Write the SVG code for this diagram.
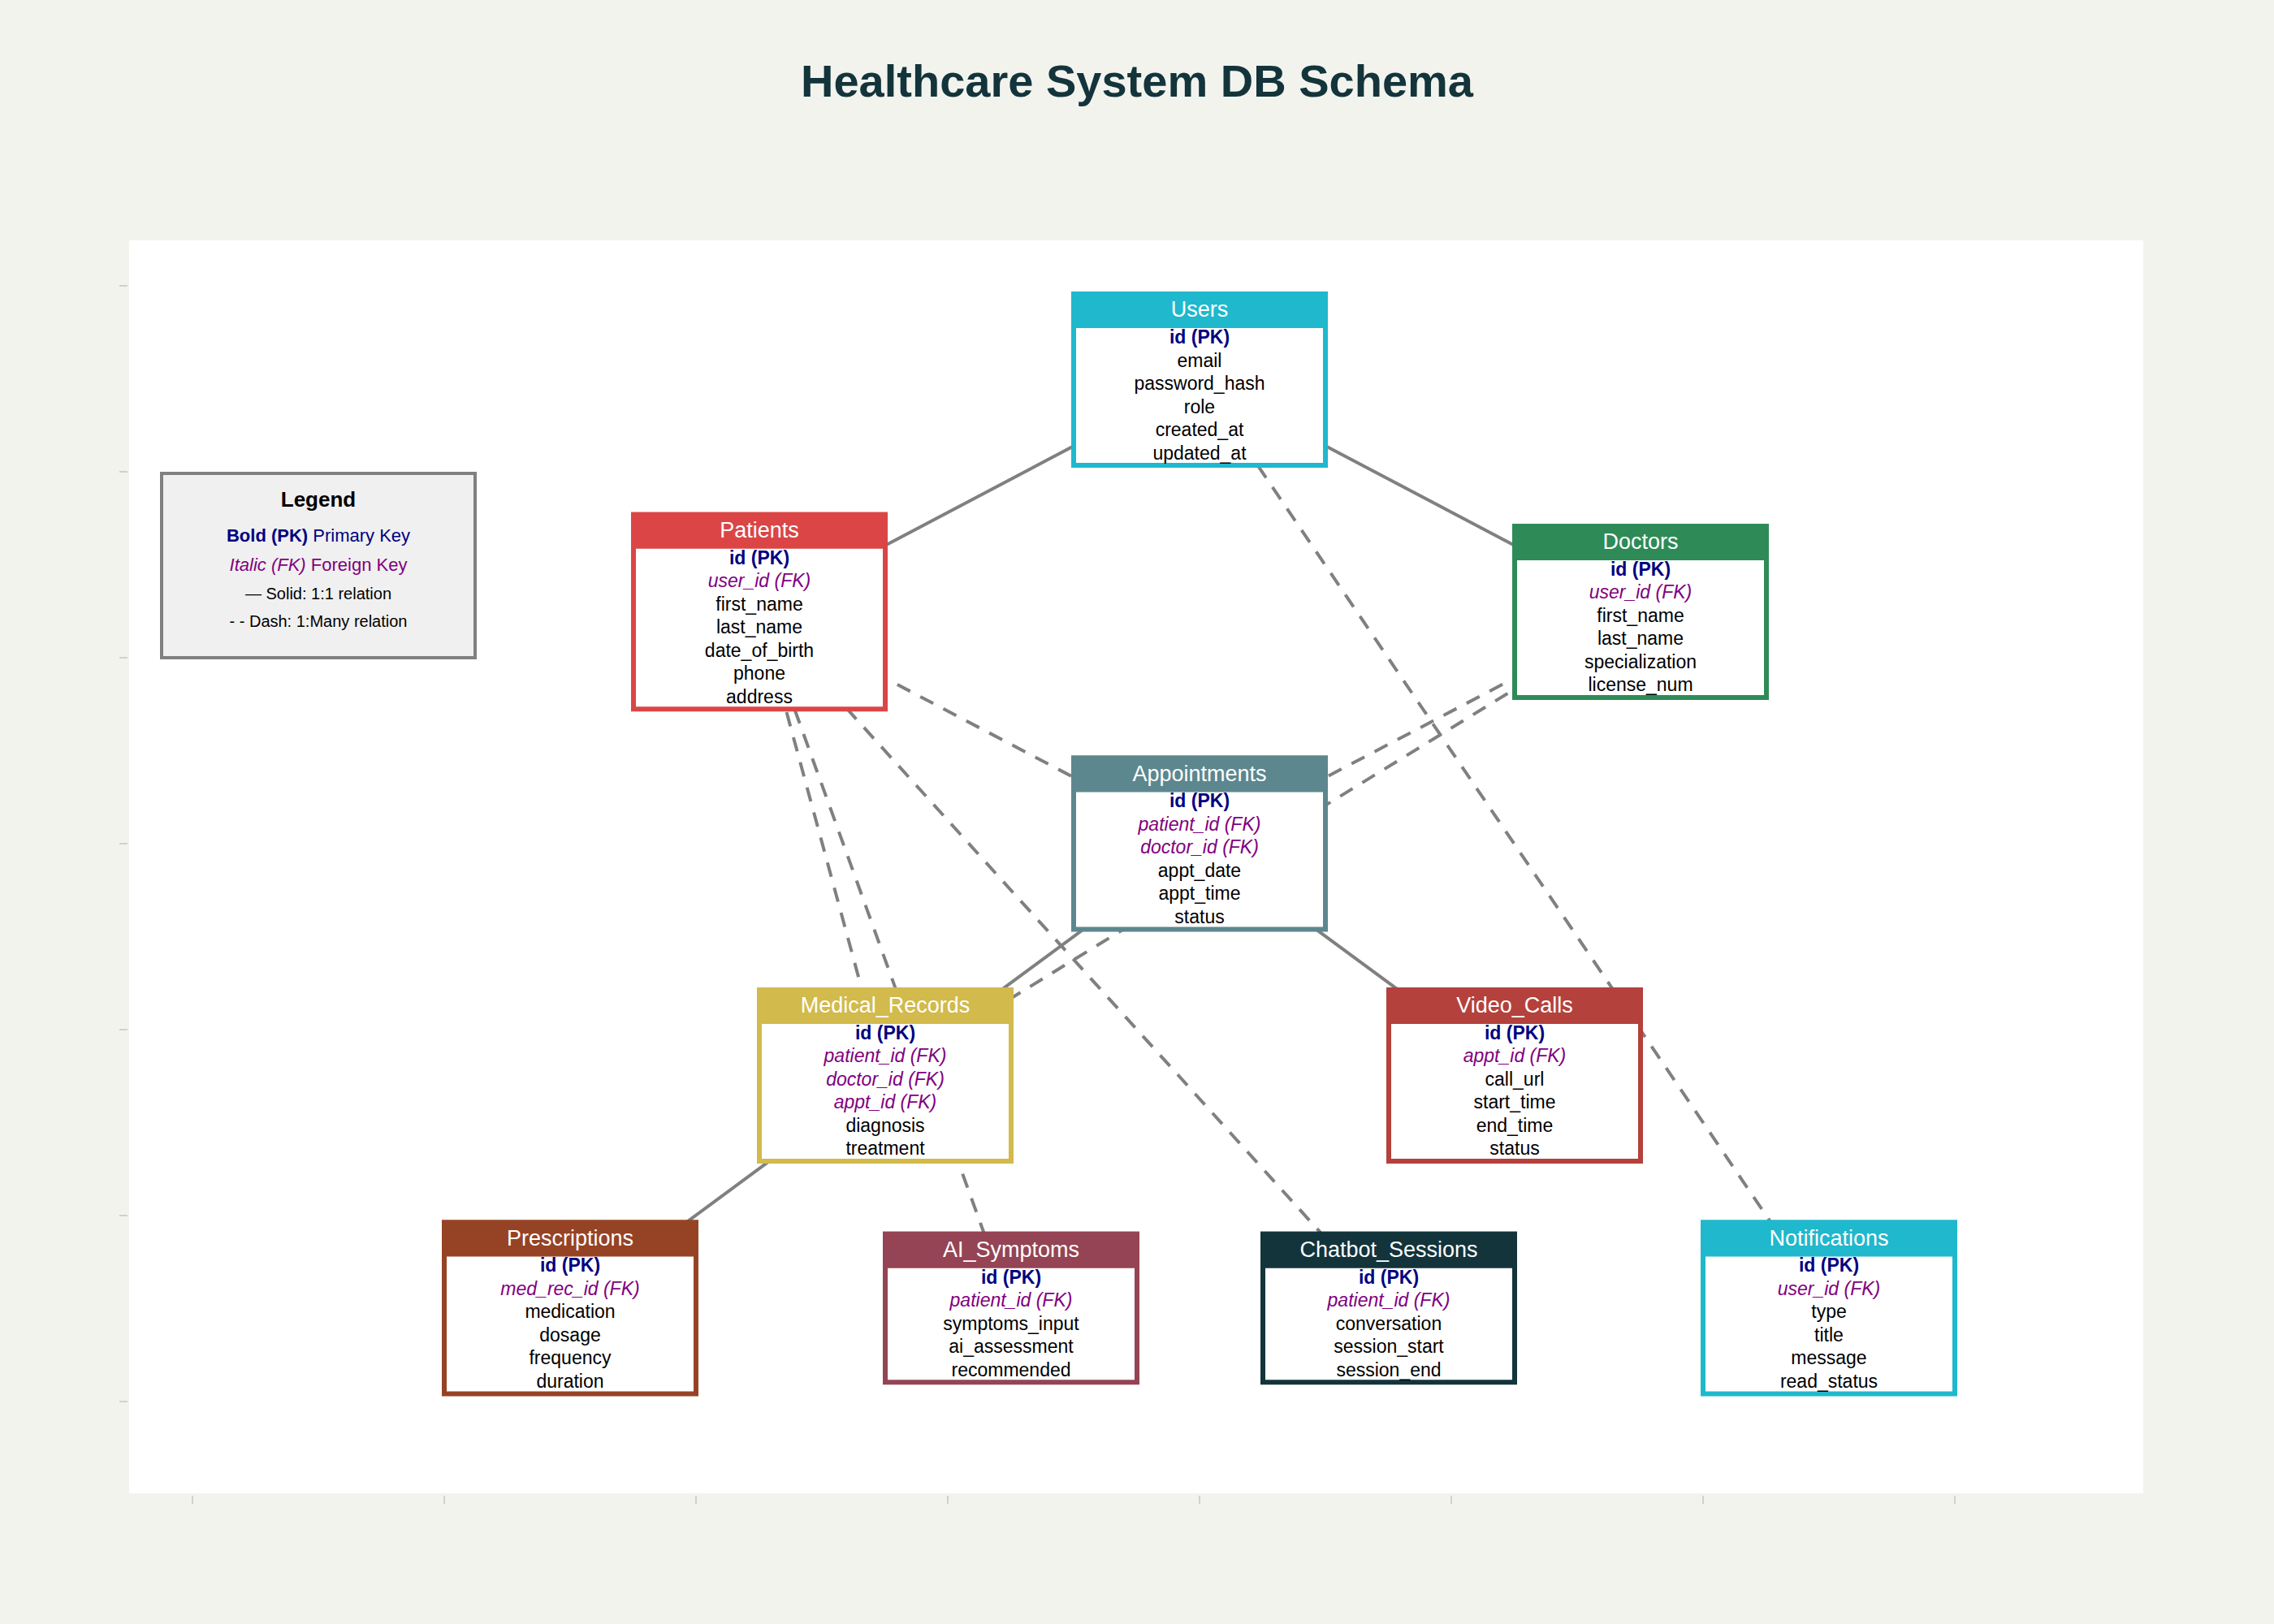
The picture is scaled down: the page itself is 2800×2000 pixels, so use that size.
<svg xmlns="http://www.w3.org/2000/svg" width="2800" height="2000" viewBox="0 0 2800 2000">
<style>
text{font-family:"Liberation Sans",Arial,sans-serif;text-anchor:middle}
.title{font-size:56px;font-weight:bold;fill:#13343B}
.hdr{font-size:27px;fill:#ffffff}
.pk{font-size:23px;font-weight:bold;fill:#000080}
.fk{font-size:23px;font-style:italic;fill:#800080}
.fld{font-size:23px;fill:#000000}
.body{fill:#ffffff;stroke-width:6}
.solid{stroke:#808080;stroke-width:4;fill:none}
.dash{stroke:#808080;stroke-width:4;fill:none;stroke-dasharray:18,14}
.tick{stroke:#d0d0d0;stroke-width:2}
</style>
<rect x="0" y="0" width="2800" height="2000" fill="#F3F3EE"/>
<rect x="159" y="296" width="2480" height="1543" fill="#ffffff"/>
<g id="ticks">
<line class="tick" x1="147" y1="352" x2="157" y2="352"/>
<line class="tick" x1="147" y1="581" x2="157" y2="581"/>
<line class="tick" x1="147" y1="810" x2="157" y2="810"/>
<line class="tick" x1="147" y1="1039" x2="157" y2="1039"/>
<line class="tick" x1="147" y1="1268" x2="157" y2="1268"/>
<line class="tick" x1="147" y1="1497" x2="157" y2="1497"/>
<line class="tick" x1="147" y1="1726" x2="157" y2="1726"/>
<line class="tick" x1="237" y1="1842" x2="237" y2="1852"/>
<line class="tick" x1="547" y1="1842" x2="547" y2="1852"/>
<line class="tick" x1="857" y1="1842" x2="857" y2="1852"/>
<line class="tick" x1="1167" y1="1842" x2="1167" y2="1852"/>
<line class="tick" x1="1477" y1="1842" x2="1477" y2="1852"/>
<line class="tick" x1="1787" y1="1842" x2="1787" y2="1852"/>
<line class="tick" x1="2097" y1="1842" x2="2097" y2="1852"/>
<line class="tick" x1="2407" y1="1842" x2="2407" y2="1852"/>
</g>
<text class="title" x="1400" y="119">Healthcare System DB Schema</text>
<g id="connectors">
<line class="solid" x1="1477" y1="467.5" x2="935" y2="753.5"/>
<line class="solid" x1="1477" y1="467.5" x2="2020" y2="753.5"/>
<line class="solid" x1="1477" y1="1039" x2="1090" y2="1324.5"/>
<line class="solid" x1="1477" y1="1039" x2="1865" y2="1324.5"/>
<line class="solid" x1="1090" y1="1324.5" x2="702" y2="1611"/>
<line class="dash" x1="935" y1="753.5" x2="1477" y2="1039"/>
<line class="dash" x1="2020" y1="753.5" x2="1477" y2="1039"/>
<line class="dash" x1="935" y1="753.5" x2="1090" y2="1324.5"/>
<line class="dash" x1="2020" y1="753.5" x2="1090" y2="1324.5"/>
<line class="dash" x1="935" y1="753.5" x2="1245" y2="1611"/>
<line class="dash" x1="935" y1="753.5" x2="1710" y2="1611"/>
<line class="dash" x1="1477" y1="467.5" x2="2252" y2="1611"/>
</g>
<g id="legend">
<rect x="199" y="583" width="386" height="227" fill="#F0F0F0" stroke="#808080" stroke-width="4"/>
<text x="392" y="624" style="font-size:26px;font-weight:bold;fill:#000">Legend</text>
<text x="392" y="667" style="font-size:22px;fill:#000080"><tspan font-weight="bold">Bold (PK)</tspan> Primary Key</text>
<text x="392" y="703" style="font-size:22px;fill:#800080"><tspan font-style="italic">Italic (FK)</tspan> Foreign Key</text>
<text x="392" y="738" style="font-size:20px;fill:#000">— Solid: 1:1 relation</text>
<text x="392" y="772" style="font-size:20px;fill:#000">- - Dash: 1:Many relation</text>
</g>
<g id="node-users">
<rect class="body" x="1322" y="362" width="310" height="211" stroke="#1FB8CD"/>
<rect x="1319" y="359" width="316" height="45" fill="#1FB8CD"/>
<text class="hdr" x="1477" y="390">Users</text>
<text class="pk" x="1477" y="423">id (PK)</text>
<text class="fld" x="1477" y="451.5">email</text>
<text class="fld" x="1477" y="480">password_hash</text>
<text class="fld" x="1477" y="508.5">role</text>
<text class="fld" x="1477" y="537">created_at</text>
<text class="fld" x="1477" y="565.5">updated_at</text>
</g>
<g id="node-patients">
<rect class="body" x="780" y="633.75" width="310" height="239.5" stroke="#DB4545"/>
<rect x="777" y="630.75" width="316" height="45" fill="#DB4545"/>
<text class="hdr" x="935" y="661.75">Patients</text>
<text class="pk" x="935" y="694.5">id (PK)</text>
<text class="fk" x="935" y="723">user_id (FK)</text>
<text class="fld" x="935" y="751.5">first_name</text>
<text class="fld" x="935" y="780">last_name</text>
<text class="fld" x="935" y="808.5">date_of_birth</text>
<text class="fld" x="935" y="837">phone</text>
<text class="fld" x="935" y="865.5">address</text>
</g>
<g id="node-doctors">
<rect class="body" x="1865" y="648" width="310" height="211" stroke="#2E8B57"/>
<rect x="1862" y="645" width="316" height="45" fill="#2E8B57"/>
<text class="hdr" x="2020" y="676">Doctors</text>
<text class="pk" x="2020" y="708.75">id (PK)</text>
<text class="fk" x="2020" y="737.25">user_id (FK)</text>
<text class="fld" x="2020" y="765.75">first_name</text>
<text class="fld" x="2020" y="794.25">last_name</text>
<text class="fld" x="2020" y="822.75">specialization</text>
<text class="fld" x="2020" y="851.25">license_num</text>
</g>
<g id="node-appointments">
<rect class="body" x="1322" y="933.5" width="310" height="211" stroke="#5D878F"/>
<rect x="1319" y="930.5" width="316" height="45" fill="#5D878F"/>
<text class="hdr" x="1477" y="961.5">Appointments</text>
<text class="pk" x="1477" y="994.25">id (PK)</text>
<text class="fk" x="1477" y="1022.75">patient_id (FK)</text>
<text class="fk" x="1477" y="1051.25">doctor_id (FK)</text>
<text class="fld" x="1477" y="1079.75">appt_date</text>
<text class="fld" x="1477" y="1108.25">appt_time</text>
<text class="fld" x="1477" y="1136.75">status</text>
</g>
<g id="node-medical-records">
<rect class="body" x="935" y="1219" width="310" height="211" stroke="#D2BA4C"/>
<rect x="932" y="1216" width="316" height="45" fill="#D2BA4C"/>
<text class="hdr" x="1090" y="1247">Medical_Records</text>
<text class="pk" x="1090" y="1279.75">id (PK)</text>
<text class="fk" x="1090" y="1308.25">patient_id (FK)</text>
<text class="fk" x="1090" y="1336.75">doctor_id (FK)</text>
<text class="fk" x="1090" y="1365.25">appt_id (FK)</text>
<text class="fld" x="1090" y="1393.75">diagnosis</text>
<text class="fld" x="1090" y="1422.25">treatment</text>
</g>
<g id="node-video-calls">
<rect class="body" x="1710" y="1219" width="310" height="211" stroke="#B4413C"/>
<rect x="1707" y="1216" width="316" height="45" fill="#B4413C"/>
<text class="hdr" x="1865" y="1247">Video_Calls</text>
<text class="pk" x="1865" y="1279.75">id (PK)</text>
<text class="fk" x="1865" y="1308.25">appt_id (FK)</text>
<text class="fld" x="1865" y="1336.75">call_url</text>
<text class="fld" x="1865" y="1365.25">start_time</text>
<text class="fld" x="1865" y="1393.75">end_time</text>
<text class="fld" x="1865" y="1422.25">status</text>
</g>
<g id="node-prescriptions">
<rect class="body" x="547" y="1505.5" width="310" height="211" stroke="#964325"/>
<rect x="544" y="1502.5" width="316" height="45" fill="#964325"/>
<text class="hdr" x="702" y="1533.5">Prescriptions</text>
<text class="pk" x="702" y="1566.25">id (PK)</text>
<text class="fk" x="702" y="1594.75">med_rec_id (FK)</text>
<text class="fld" x="702" y="1623.25">medication</text>
<text class="fld" x="702" y="1651.75">dosage</text>
<text class="fld" x="702" y="1680.25">frequency</text>
<text class="fld" x="702" y="1708.75">duration</text>
</g>
<g id="node-ai-symptoms">
<rect class="body" x="1090" y="1519.75" width="310" height="182.5" stroke="#944454"/>
<rect x="1087" y="1516.75" width="316" height="45" fill="#944454"/>
<text class="hdr" x="1245" y="1547.75">AI_Symptoms</text>
<text class="pk" x="1245" y="1580.5">id (PK)</text>
<text class="fk" x="1245" y="1609">patient_id (FK)</text>
<text class="fld" x="1245" y="1637.5">symptoms_input</text>
<text class="fld" x="1245" y="1666">ai_assessment</text>
<text class="fld" x="1245" y="1694.5">recommended</text>
</g>
<g id="node-chatbot-sessions">
<rect class="body" x="1555" y="1519.75" width="310" height="182.5" stroke="#13343B"/>
<rect x="1552" y="1516.75" width="316" height="45" fill="#13343B"/>
<text class="hdr" x="1710" y="1547.75">Chatbot_Sessions</text>
<text class="pk" x="1710" y="1580.5">id (PK)</text>
<text class="fk" x="1710" y="1609">patient_id (FK)</text>
<text class="fld" x="1710" y="1637.5">conversation</text>
<text class="fld" x="1710" y="1666">session_start</text>
<text class="fld" x="1710" y="1694.5">session_end</text>
</g>
<g id="node-notifications">
<rect class="body" x="2097" y="1505.5" width="310" height="211" stroke="#1FB8CD"/>
<rect x="2094" y="1502.5" width="316" height="45" fill="#1FB8CD"/>
<text class="hdr" x="2252" y="1533.5">Notifications</text>
<text class="pk" x="2252" y="1566.25">id (PK)</text>
<text class="fk" x="2252" y="1594.75">user_id (FK)</text>
<text class="fld" x="2252" y="1623.25">type</text>
<text class="fld" x="2252" y="1651.75">title</text>
<text class="fld" x="2252" y="1680.25">message</text>
<text class="fld" x="2252" y="1708.75">read_status</text>
</g>
</svg>
